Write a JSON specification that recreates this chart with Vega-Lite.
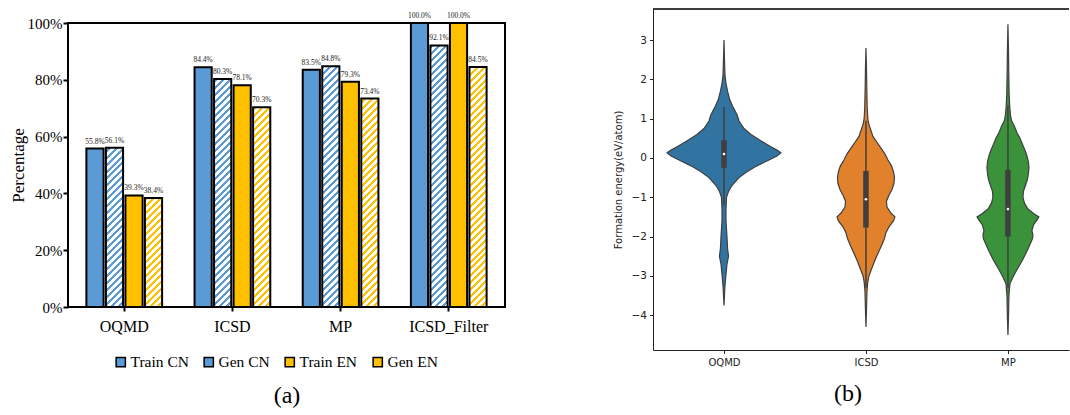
{
  "$schema": "https://vega.github.io/schema/vega-lite/v6.json",
  "background": "white",
  "padding": {"left": 8, "top": 8, "right": 0, "bottom": 0},
  "spacing": 107,
  "resolve": {"scale": {"color": "independent", "x": "independent", "y": "independent"}, "legend": {"color": "independent"}},
  "datasets": {
    "bars": [
      {"db": "OQMD", "series": "Train CN", "v": 0.558},
      {"db": "OQMD", "series": "Gen CN", "v": 0.561},
      {"db": "OQMD", "series": "Train EN", "v": 0.393},
      {"db": "OQMD", "series": "Gen EN", "v": 0.384},
      {"db": "ICSD", "series": "Train CN", "v": 0.844},
      {"db": "ICSD", "series": "Gen CN", "v": 0.803},
      {"db": "ICSD", "series": "Train EN", "v": 0.781},
      {"db": "ICSD", "series": "Gen EN", "v": 0.703},
      {"db": "MP", "series": "Train CN", "v": 0.835},
      {"db": "MP", "series": "Gen CN", "v": 0.848},
      {"db": "MP", "series": "Train EN", "v": 0.793},
      {"db": "MP", "series": "Gen EN", "v": 0.734},
      {"db": "ICSD_Filter", "series": "Train CN", "v": 1.0},
      {"db": "ICSD_Filter", "series": "Gen CN", "v": 0.921},
      {"db": "ICSD_Filter", "series": "Train EN", "v": 1.0},
      {"db": "ICSD_Filter", "series": "Gen EN", "v": 0.845}
    ],
    "violin": [
      {"ds": "OQMD", "y": 3.0, "w": 0},
      {"ds": "OQMD", "y": 2.5, "w": 0.0035},
      {"ds": "OQMD", "y": 2.1, "w": 0.007},
      {"ds": "OQMD", "y": 1.9, "w": 0.014},
      {"ds": "OQMD", "y": 1.7, "w": 0.025},
      {"ds": "OQMD", "y": 1.5, "w": 0.039},
      {"ds": "OQMD", "y": 1.3, "w": 0.063},
      {"ds": "OQMD", "y": 1.1, "w": 0.092},
      {"ds": "OQMD", "y": 0.94, "w": 0.106},
      {"ds": "OQMD", "y": 0.75, "w": 0.141},
      {"ds": "OQMD", "y": 0.6, "w": 0.19},
      {"ds": "OQMD", "y": 0.45, "w": 0.254},
      {"ds": "OQMD", "y": 0.3, "w": 0.324},
      {"ds": "OQMD", "y": 0.2, "w": 0.373},
      {"ds": "OQMD", "y": 0.13, "w": 0.401},
      {"ds": "OQMD", "y": 0.05, "w": 0.373},
      {"ds": "OQMD", "y": -0.05, "w": 0.317},
      {"ds": "OQMD", "y": -0.2, "w": 0.232},
      {"ds": "OQMD", "y": -0.35, "w": 0.162},
      {"ds": "OQMD", "y": -0.5, "w": 0.106},
      {"ds": "OQMD", "y": -0.7, "w": 0.056},
      {"ds": "OQMD", "y": -0.85, "w": 0.032},
      {"ds": "OQMD", "y": -1.0, "w": 0.018},
      {"ds": "OQMD", "y": -1.3, "w": 0.014},
      {"ds": "OQMD", "y": -1.6, "w": 0.014},
      {"ds": "OQMD", "y": -2.0, "w": 0.021},
      {"ds": "OQMD", "y": -2.3, "w": 0.025},
      {"ds": "OQMD", "y": -2.5, "w": 0.032},
      {"ds": "OQMD", "y": -2.7, "w": 0.021},
      {"ds": "OQMD", "y": -3.0, "w": 0.013},
      {"ds": "OQMD", "y": -3.3, "w": 0.006},
      {"ds": "OQMD", "y": -3.75, "w": 0},
      {"ds": "ICSD", "y": 2.8, "w": 0},
      {"ds": "ICSD", "y": 2.3, "w": 0.0035},
      {"ds": "ICSD", "y": 1.8, "w": 0.0056},
      {"ds": "ICSD", "y": 1.3, "w": 0.0085},
      {"ds": "ICSD", "y": 1.0, "w": 0.0127},
      {"ds": "ICSD", "y": 0.85, "w": 0.021},
      {"ds": "ICSD", "y": 0.7, "w": 0.035},
      {"ds": "ICSD", "y": 0.55, "w": 0.049},
      {"ds": "ICSD", "y": 0.4, "w": 0.077},
      {"ds": "ICSD", "y": 0.25, "w": 0.106},
      {"ds": "ICSD", "y": 0.1, "w": 0.134},
      {"ds": "ICSD", "y": -0.05, "w": 0.155},
      {"ds": "ICSD", "y": -0.2, "w": 0.18},
      {"ds": "ICSD", "y": -0.35, "w": 0.194},
      {"ds": "ICSD", "y": -0.5, "w": 0.201},
      {"ds": "ICSD", "y": -0.65, "w": 0.197},
      {"ds": "ICSD", "y": -0.8, "w": 0.183},
      {"ds": "ICSD", "y": -0.95, "w": 0.162},
      {"ds": "ICSD", "y": -1.1, "w": 0.144},
      {"ds": "ICSD", "y": -1.25, "w": 0.148},
      {"ds": "ICSD", "y": -1.4, "w": 0.176},
      {"ds": "ICSD", "y": -1.5, "w": 0.204},
      {"ds": "ICSD", "y": -1.6, "w": 0.194},
      {"ds": "ICSD", "y": -1.75, "w": 0.162},
      {"ds": "ICSD", "y": -1.9, "w": 0.141},
      {"ds": "ICSD", "y": -2.05, "w": 0.13},
      {"ds": "ICSD", "y": -2.2, "w": 0.113},
      {"ds": "ICSD", "y": -2.4, "w": 0.088},
      {"ds": "ICSD", "y": -2.6, "w": 0.063},
      {"ds": "ICSD", "y": -2.8, "w": 0.042},
      {"ds": "ICSD", "y": -3.0, "w": 0.021},
      {"ds": "ICSD", "y": -3.15, "w": 0.0127},
      {"ds": "ICSD", "y": -3.4, "w": 0.007},
      {"ds": "ICSD", "y": -3.8, "w": 0.0042},
      {"ds": "ICSD", "y": -4.3, "w": 0},
      {"ds": "MP", "y": 3.4, "w": 0},
      {"ds": "MP", "y": 2.8, "w": 0.0035},
      {"ds": "MP", "y": 2.2, "w": 0.0056},
      {"ds": "MP", "y": 1.6, "w": 0.0085},
      {"ds": "MP", "y": 1.3, "w": 0.0127},
      {"ds": "MP", "y": 1.1, "w": 0.0176},
      {"ds": "MP", "y": 0.95, "w": 0.025},
      {"ds": "MP", "y": 0.8, "w": 0.046},
      {"ds": "MP", "y": 0.65, "w": 0.063},
      {"ds": "MP", "y": 0.5, "w": 0.085},
      {"ds": "MP", "y": 0.35, "w": 0.102},
      {"ds": "MP", "y": 0.2, "w": 0.12},
      {"ds": "MP", "y": 0.05, "w": 0.134},
      {"ds": "MP", "y": -0.1, "w": 0.144},
      {"ds": "MP", "y": -0.25, "w": 0.148},
      {"ds": "MP", "y": -0.4, "w": 0.144},
      {"ds": "MP", "y": -0.55, "w": 0.137},
      {"ds": "MP", "y": -0.7, "w": 0.123},
      {"ds": "MP", "y": -0.85, "w": 0.109},
      {"ds": "MP", "y": -1.0, "w": 0.106},
      {"ds": "MP", "y": -1.15, "w": 0.116},
      {"ds": "MP", "y": -1.3, "w": 0.141},
      {"ds": "MP", "y": -1.42, "w": 0.183},
      {"ds": "MP", "y": -1.5, "w": 0.218},
      {"ds": "MP", "y": -1.58, "w": 0.204},
      {"ds": "MP", "y": -1.7, "w": 0.18},
      {"ds": "MP", "y": -1.85, "w": 0.169},
      {"ds": "MP", "y": -1.95, "w": 0.176},
      {"ds": "MP", "y": -2.05, "w": 0.173},
      {"ds": "MP", "y": -2.2, "w": 0.155},
      {"ds": "MP", "y": -2.4, "w": 0.13},
      {"ds": "MP", "y": -2.6, "w": 0.102},
      {"ds": "MP", "y": -2.8, "w": 0.07},
      {"ds": "MP", "y": -3.0, "w": 0.039},
      {"ds": "MP", "y": -3.2, "w": 0.014},
      {"ds": "MP", "y": -3.5, "w": 0.007},
      {"ds": "MP", "y": -4.0, "w": 0.0042},
      {"ds": "MP", "y": -4.5, "w": 0}
    ],
    "stats": [
      {"ds": "OQMD", "lo": -1.2, "q1": -0.25, "med": 0.1, "q3": 0.45, "hi": 1.3},
      {"ds": "ICSD", "lo": -3.3, "q1": -1.77, "med": -1.05, "q3": -0.33, "hi": 0.95},
      {"ds": "MP", "lo": -3.3, "q1": -2.0, "med": -1.3, "q3": -0.3, "hi": 1.35}
    ]
  },
  "hconcat": [
    {
      "spacing": 1,
      "vconcat": [
        {
          "width": 437,
          "height": 1,
          "view": {"stroke": null},
          "data": {"values": []},
          "mark": {"type": "point", "opacity": 0},
          "encoding": {}
        },
        {
          "width": 437,
          "height": 284,
          "view": {"stroke": "black", "strokeWidth": 2},
          "data": {"name": "bars"},
          "encoding": {
            "x": {"field": "db", "type": "nominal", "sort": ["OQMD", "ICSD", "MP", "ICSD_Filter"],
                  "scale": {"paddingInner": 0.3, "paddingOuter": 0.17},
                  "axis": {"title": null, "labelAngle": 0, "labelFont": "Liberation Serif", "labelFontSize": 16, "labelColor": "black", "tickSize": 4, "tickColor": "black", "tickWidth": 2, "domain": false, "labelPadding": 7}},
            "xOffset": {"field": "series", "type": "nominal", "sort": ["Train CN", "Gen CN", "Train EN", "Gen EN"],
                        "scale": {"paddingInner": 0.12, "paddingOuter": 0}}
          },
          "layer": [
            {
              "mark": {"type": "bar", "stroke": null},
              "encoding": {
                "y": {"field": "v", "type": "quantitative", "stack": null, "scale": {"domain": [0, 1], "nice": false},
                      "axis": {"values": [0, 0.1, 0.2, 0.3, 0.4, 0.5, 0.6, 0.7, 0.8, 0.9, 1], "format": ".0%",
                               "labelExpr": "round(datum.value*10) % 2 === 0 ? datum.label : ''",
                               "tickSize": {"condition": {"test": "round(datum.value*10) % 2 === 0", "value": 5}, "value": 3},
                               "domain": false, "tickColor": "black", "tickWidth": 2, "grid": false,
                               "labelFont": "Liberation Serif", "labelFontSize": 15, "labelColor": "black", "labelPadding": 1,
                               "title": "Percentage", "titleFont": "Liberation Serif", "titleFontSize": 17, "titleFontWeight": "normal", "titleColor": "black", "titlePadding": 0}},
                "color": {"field": "series", "type": "nominal", "sort": ["Train CN", "Gen CN", "Train EN", "Gen EN"],
                          "scale": {"domain": ["Train CN", "Gen CN", "Train EN", "Gen EN"],
                                    "range": ["#5b9bd5", "#5b9bd5", "#ffc000", "#ffc000"]},
                          "legend": {"orient": "none", "legendX": 45, "legendY": 345, "direction": "horizontal", "title": "(a)", "titleOrient": "bottom", "titleAnchor": "middle",
                                     "titleFont": "Liberation Serif", "titleFontSize": 24, "titleFontWeight": "normal", "titleColor": "black", "titlePadding": 13,
                                     "symbolType": "square", "symbolSize": 85,
                                     "symbolStrokeColor": "black", "symbolStrokeWidth": 1.5, "labelFont": "Liberation Serif", "labelFontSize": 15.5,
                                     "labelColor": "black", "labelOffset": 2, "columnPadding": 12,
                                     "encode": {"title": {"update": {"dx": {"value": 12}}},
                                       "symbols": {"update": {"stroke": {"value": "black"}, "strokeWidth": {"value": 1.5},
                                       "fill": {"signal": "datum.value === 'Gen CN' ? {gradient: 'linear', x1: 0, y1: 0, x2: 1, y2: 1, stops: [{offset: 0, color: 'white'}, {offset: 0.5, color: 'white'}, {offset: 0.5, color: '#5b9bd5'}, {offset: 1, color: '#5b9bd5'}]} : datum.value === 'Gen EN' ? {gradient: 'linear', x1: 0, y1: 0, x2: 1, y2: 1, stops: [{offset: 0, color: 'white'}, {offset: 0.68, color: 'white'}, {offset: 0.68, color: '#ffc000'}, {offset: 1, color: '#ffc000'}]} : datum.value === 'Train CN' ? '#5b9bd5' : '#ffc000'"}}}}}}
              }
            },
            {
              "transform": [{"filter": "datum.series === 'Gen CN' || datum.series === 'Gen EN'"}],
              "mark": {"type": "bar", "stroke": null,
                       "fill": {"gradient": "linear", "x1": 0, "y1": 0, "x2": 0.0644, "y2": 1.0571, "stops": [
                         {"offset": 0, "color": "#fff0"}, {"offset": 0.0100, "color": "#fff0"}, {"offset": 0.0100, "color": "#fff"}, {"offset": 0.0233, "color": "#fff"},
                         {"offset": 0.0233, "color": "#fff0"}, {"offset": 0.0333, "color": "#fff0"}, {"offset": 0.0333, "color": "#fff"}, {"offset": 0.0465, "color": "#fff"},
                         {"offset": 0.0465, "color": "#fff0"}, {"offset": 0.0565, "color": "#fff0"}, {"offset": 0.0565, "color": "#fff"}, {"offset": 0.0698, "color": "#fff"},
                         {"offset": 0.0698, "color": "#fff0"}, {"offset": 0.0798, "color": "#fff0"}, {"offset": 0.0798, "color": "#fff"}, {"offset": 0.0930, "color": "#fff"},
                         {"offset": 0.0930, "color": "#fff0"}, {"offset": 0.1030, "color": "#fff0"}, {"offset": 0.1030, "color": "#fff"}, {"offset": 0.1163, "color": "#fff"},
                         {"offset": 0.1163, "color": "#fff0"}, {"offset": 0.1263, "color": "#fff0"}, {"offset": 0.1263, "color": "#fff"}, {"offset": 0.1395, "color": "#fff"},
                         {"offset": 0.1395, "color": "#fff0"}, {"offset": 0.1495, "color": "#fff0"}, {"offset": 0.1495, "color": "#fff"}, {"offset": 0.1628, "color": "#fff"},
                         {"offset": 0.1628, "color": "#fff0"}, {"offset": 0.1728, "color": "#fff0"}, {"offset": 0.1728, "color": "#fff"}, {"offset": 0.1860, "color": "#fff"},
                         {"offset": 0.1860, "color": "#fff0"}, {"offset": 0.1960, "color": "#fff0"}, {"offset": 0.1960, "color": "#fff"}, {"offset": 0.2093, "color": "#fff"},
                         {"offset": 0.2093, "color": "#fff0"}, {"offset": 0.2193, "color": "#fff0"}, {"offset": 0.2193, "color": "#fff"}, {"offset": 0.2326, "color": "#fff"},
                         {"offset": 0.2326, "color": "#fff0"}, {"offset": 0.2426, "color": "#fff0"}, {"offset": 0.2426, "color": "#fff"}, {"offset": 0.2558, "color": "#fff"},
                         {"offset": 0.2558, "color": "#fff0"}, {"offset": 0.2658, "color": "#fff0"}, {"offset": 0.2658, "color": "#fff"}, {"offset": 0.2791, "color": "#fff"},
                         {"offset": 0.2791, "color": "#fff0"}, {"offset": 0.2891, "color": "#fff0"}, {"offset": 0.2891, "color": "#fff"}, {"offset": 0.3023, "color": "#fff"},
                         {"offset": 0.3023, "color": "#fff0"}, {"offset": 0.3123, "color": "#fff0"}, {"offset": 0.3123, "color": "#fff"}, {"offset": 0.3256, "color": "#fff"},
                         {"offset": 0.3256, "color": "#fff0"}, {"offset": 0.3356, "color": "#fff0"}, {"offset": 0.3356, "color": "#fff"}, {"offset": 0.3488, "color": "#fff"},
                         {"offset": 0.3488, "color": "#fff0"}, {"offset": 0.3588, "color": "#fff0"}, {"offset": 0.3588, "color": "#fff"}, {"offset": 0.3721, "color": "#fff"},
                         {"offset": 0.3721, "color": "#fff0"}, {"offset": 0.3821, "color": "#fff0"}, {"offset": 0.3821, "color": "#fff"}, {"offset": 0.3953, "color": "#fff"},
                         {"offset": 0.3953, "color": "#fff0"}, {"offset": 0.4053, "color": "#fff0"}, {"offset": 0.4053, "color": "#fff"}, {"offset": 0.4186, "color": "#fff"},
                         {"offset": 0.4186, "color": "#fff0"}, {"offset": 0.4286, "color": "#fff0"}, {"offset": 0.4286, "color": "#fff"}, {"offset": 0.4419, "color": "#fff"},
                         {"offset": 0.4419, "color": "#fff0"}, {"offset": 0.4519, "color": "#fff0"}, {"offset": 0.4519, "color": "#fff"}, {"offset": 0.4651, "color": "#fff"},
                         {"offset": 0.4651, "color": "#fff0"}, {"offset": 0.4751, "color": "#fff0"}, {"offset": 0.4751, "color": "#fff"}, {"offset": 0.4884, "color": "#fff"},
                         {"offset": 0.4884, "color": "#fff0"}, {"offset": 0.4984, "color": "#fff0"}, {"offset": 0.4984, "color": "#fff"}, {"offset": 0.5116, "color": "#fff"},
                         {"offset": 0.5116, "color": "#fff0"}, {"offset": 0.5216, "color": "#fff0"}, {"offset": 0.5216, "color": "#fff"}, {"offset": 0.5349, "color": "#fff"},
                         {"offset": 0.5349, "color": "#fff0"}, {"offset": 0.5449, "color": "#fff0"}, {"offset": 0.5449, "color": "#fff"}, {"offset": 0.5581, "color": "#fff"},
                         {"offset": 0.5581, "color": "#fff0"}, {"offset": 0.5681, "color": "#fff0"}, {"offset": 0.5681, "color": "#fff"}, {"offset": 0.5814, "color": "#fff"},
                         {"offset": 0.5814, "color": "#fff0"}, {"offset": 0.5914, "color": "#fff0"}, {"offset": 0.5914, "color": "#fff"}, {"offset": 0.6047, "color": "#fff"},
                         {"offset": 0.6047, "color": "#fff0"}, {"offset": 0.6147, "color": "#fff0"}, {"offset": 0.6147, "color": "#fff"}, {"offset": 0.6279, "color": "#fff"},
                         {"offset": 0.6279, "color": "#fff0"}, {"offset": 0.6379, "color": "#fff0"}, {"offset": 0.6379, "color": "#fff"}, {"offset": 0.6512, "color": "#fff"},
                         {"offset": 0.6512, "color": "#fff0"}, {"offset": 0.6612, "color": "#fff0"}, {"offset": 0.6612, "color": "#fff"}, {"offset": 0.6744, "color": "#fff"},
                         {"offset": 0.6744, "color": "#fff0"}, {"offset": 0.6844, "color": "#fff0"}, {"offset": 0.6844, "color": "#fff"}, {"offset": 0.6977, "color": "#fff"},
                         {"offset": 0.6977, "color": "#fff0"}, {"offset": 0.7077, "color": "#fff0"}, {"offset": 0.7077, "color": "#fff"}, {"offset": 0.7209, "color": "#fff"},
                         {"offset": 0.7209, "color": "#fff0"}, {"offset": 0.7309, "color": "#fff0"}, {"offset": 0.7309, "color": "#fff"}, {"offset": 0.7442, "color": "#fff"},
                         {"offset": 0.7442, "color": "#fff0"}, {"offset": 0.7542, "color": "#fff0"}, {"offset": 0.7542, "color": "#fff"}, {"offset": 0.7674, "color": "#fff"},
                         {"offset": 0.7674, "color": "#fff0"}, {"offset": 0.7774, "color": "#fff0"}, {"offset": 0.7774, "color": "#fff"}, {"offset": 0.7907, "color": "#fff"},
                         {"offset": 0.7907, "color": "#fff0"}, {"offset": 0.8007, "color": "#fff0"}, {"offset": 0.8007, "color": "#fff"}, {"offset": 0.8140, "color": "#fff"},
                         {"offset": 0.8140, "color": "#fff0"}, {"offset": 0.8240, "color": "#fff0"}, {"offset": 0.8240, "color": "#fff"}, {"offset": 0.8372, "color": "#fff"},
                         {"offset": 0.8372, "color": "#fff0"}, {"offset": 0.8472, "color": "#fff0"}, {"offset": 0.8472, "color": "#fff"}, {"offset": 0.8605, "color": "#fff"},
                         {"offset": 0.8605, "color": "#fff0"}, {"offset": 0.8705, "color": "#fff0"}, {"offset": 0.8705, "color": "#fff"}, {"offset": 0.8837, "color": "#fff"},
                         {"offset": 0.8837, "color": "#fff0"}, {"offset": 0.8937, "color": "#fff0"}, {"offset": 0.8937, "color": "#fff"}, {"offset": 0.9070, "color": "#fff"},
                         {"offset": 0.9070, "color": "#fff0"}, {"offset": 0.9170, "color": "#fff0"}, {"offset": 0.9170, "color": "#fff"}, {"offset": 0.9302, "color": "#fff"},
                         {"offset": 0.9302, "color": "#fff0"}, {"offset": 0.9402, "color": "#fff0"}, {"offset": 0.9402, "color": "#fff"}, {"offset": 0.9535, "color": "#fff"},
                         {"offset": 0.9535, "color": "#fff0"}, {"offset": 0.9635, "color": "#fff0"}, {"offset": 0.9635, "color": "#fff"}, {"offset": 0.9767, "color": "#fff"},
                         {"offset": 0.9767, "color": "#fff0"}, {"offset": 0.9867, "color": "#fff0"}, {"offset": 0.9867, "color": "#fff"}, {"offset": 1, "color": "#fff"}
                       ]}},
              "encoding": {
                "y": {"datum": 0, "type": "quantitative"},
                "y2": {"datum": 0.993}
              }
            },
            {
              "mark": {"type": "bar", "fill": "transparent", "stroke": "black", "strokeWidth": 2},
              "encoding": {"y": {"field": "v", "type": "quantitative", "stack": null}}
            },
            {
              "mark": {"type": "text", "font": "Liberation Serif", "fontSize": 7.5, "dy": -5, "fill": "#222", "baseline": "alphabetic"},
              "encoding": {
                "y": {"field": "v", "type": "quantitative", "stack": null},
                "text": {"field": "v", "type": "quantitative", "format": ".1%"}
              }
            }
          ]
        }
      ]
    },
    {
      "width": 416,
      "height": 341,
      "view": {"stroke": null},
      "title": {"text": "(b)", "orient": "bottom", "font": "Liberation Serif", "fontSize": 24, "fontWeight": "normal", "color": "black", "offset": 14, "dx": -13},
      "layer": [
        {
          "data": {"name": "violin"},
          "transform": [
            {"calculate": "indexof(['OQMD','ICSD','MP'], datum.ds)", "as": "i"},
            {"calculate": "datum.i - datum.w", "as": "lo"},
            {"calculate": "datum.i + datum.w", "as": "hi"}
          ],
          "mark": {"type": "area", "orient": "horizontal", "stroke": "#3f3f3f", "strokeWidth": 1.2},
          "encoding": {
            "y": {"field": "y", "type": "quantitative", "scale": {"domain": [-4.885, 3.79], "nice": false, "zero": false},
                  "axis": {"values": [-4, -3, -2, -1, 0, 1, 2, 3], "grid": false, "title": "Formation energy(eV/atom)",
                           "titleFont": "DejaVu Sans", "titleFontSize": 10, "titleFontWeight": "normal", "titleColor": "#222", "titlePadding": 8,
                           "labelFont": "DejaVu Sans", "labelFontSize": 10.5, "labelColor": "#222", "labelPadding": 3,
                           "tickSize": 3.5, "tickColor": "#222", "tickWidth": 1, "domainColor": "#222", "domainWidth": 1}},
            "x": {"field": "lo", "type": "quantitative", "scale": {"domain": [-0.5, 2.43], "nice": false, "zero": false},
                  "axis": {"values": [0, 1, 2], "labelExpr": "['OQMD','ICSD','MP'][datum.value]", "title": null, "grid": false,
                           "labelFont": "DejaVu Sans", "labelFontSize": 10, "labelColor": "#222", "labelPadding": 4,
                           "tickSize": 3.5, "tickColor": "#222", "tickWidth": 1, "domainColor": "#222", "domainWidth": 1}},
            "x2": {"field": "hi"},
            "color": {"field": "ds", "type": "nominal", "scale": {"domain": ["OQMD", "ICSD", "MP"], "range": ["#3274a1", "#e1812c", "#3a923a"]}, "legend": null}
          }
        },
        {
          "data": {"name": "stats"},
          "transform": [{"calculate": "indexof(['OQMD','ICSD','MP'], datum.ds)", "as": "i"}],
          "mark": {"type": "rule", "color": "#3f3f3f", "strokeWidth": 1.5},
          "encoding": {"x": {"field": "i", "type": "quantitative"}, "y": {"field": "lo", "type": "quantitative"}, "y2": {"field": "hi"}}
        },
        {
          "data": {"name": "stats"},
          "transform": [{"calculate": "indexof(['OQMD','ICSD','MP'], datum.ds)", "as": "i"}],
          "mark": {"type": "rule", "color": "#3f3f3f", "strokeWidth": 5.5},
          "encoding": {"x": {"field": "i", "type": "quantitative"}, "y": {"field": "q1", "type": "quantitative"}, "y2": {"field": "q3"}}
        },
        {
          "data": {"name": "stats"},
          "transform": [{"calculate": "indexof(['OQMD','ICSD','MP'], datum.ds)", "as": "i"}],
          "mark": {"type": "point", "filled": true, "color": "white", "size": 7, "opacity": 1},
          "encoding": {"x": {"field": "i", "type": "quantitative"}, "y": {"field": "med", "type": "quantitative"}}
        },
        {
          "data": {"name": "stats"},
          "mark": {"type": "rule", "color": "#222", "strokeWidth": 1},
          "encoding": {"y": {"datum": 3.79, "type": "quantitative"}}
        }
      ]
    }
  ]
}
